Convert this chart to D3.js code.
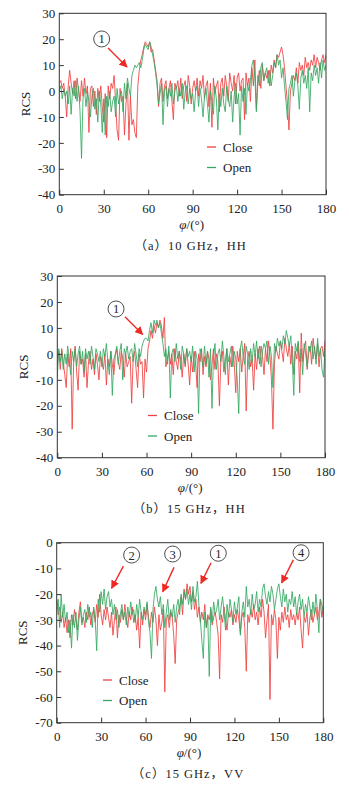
<!DOCTYPE html>
<html>
<head>
<meta charset="utf-8">
<script src="https://cdn.jsdelivr.net/npm/d3@7"></script>
<style>
  body { margin: 0; background: #fff; }
  text { font-family: "Liberation Serif", "Noto Sans CJK SC", serif; fill: #222; }
</style>
</head>
<body>
<div id="chart"></div>
<script>
// φ in degrees, one reading per degree
const angles = d3.range(0, 181)

// (a) 10 GHz, HH
const closeA = [
  3, 4, 1, 3, -2, -10, 2, 8, 3, -1,
  4, -3, 5, 0, -4, 4, -2, 5, -1, 2,
  -16, 1, 2, -6, 0, -9, 1, -4, 2, -6,
  -12, -1, -18, 2, -3, 3, 1, 6, -4, -15,
  -19, 1, -4, -2, -17, -5, 3, -19, -2, -13,
  -11, -16, -18, 2, 8, 12, 14, 17, 19, 18,
  17, 19, 15, 16, 12, 8, 4, -6, 3, 5,
  -4, 2, 4, -3, 1, 4, -4, -11, 3, 1,
  4, -2, 5, -3, 2, 4, -4, 6, 2, -5,
  1, 4, 0, 5, -2, 4, 1, 6, -3, 2,
  4, -6, 3, -14, 5, -1, 2, 4, -8, 3,
  5, -2, 6, 2, -4, 7, 3, 0, 6, -5,
  5, 7, 0, 4, 5, -11, 7, 2, 5, -4,
  9, 2, 12, -7, 3, 8, 1, 10, 4, 7,
  5, 8, 2, 10, 7, 12, 9, 14, 13, 15,
  17, 14, 9, 2, -5, -15, 0, 3, 6, 4,
  9, 3, 11, 8, 10, 6, 13, 9, 11, 8,
  12, 10, 14, 9, 13, 11, 8, 12, 14, 11,
  14
]
const openA = [
  0, 2, -3, 1, -2, 0, -5, 2, -9, 1,
  -2, 4, -4, 2, -8, -26, -3, 1, -6, 0,
  -4, -10, -2, 1, -7, -3, -12, 0, -5, -16,
  -3, -17, -2, -6, 0, -8, -4, -2, -10, 1,
  -5, -2, 0, -8, 3, -3, 5, 1, -2, 6,
  8, 10, 9, 10, 11, 9, 12, 16, 18, 17,
  16, 19, 17, 14, 11, 7, 2, -5, -1, 3,
  -13, 0, 2, -6, 1, -2, 3, -5, 0, 2,
  -4, 1, -2, 3, -7, 0, 2, -5, 1, -3,
  -1, -8, 0, 2, -6, 1, -3, -10, -2, 1,
  -5, -12, 0, -4, -9, 2, -3, -15, -1, -6,
  1, -5, -8, 2, -3, -6, 0, -12, -2, 3,
  -5, -1, -17, 2, -4, 1, -9, 3, 0, 4,
  10, 12, 5, -8, 6, 2, 9, 11, 4, 7,
  9, 3, 8, 2, 6, 11, 9, 14, 10, 12,
  5, 9, 2, -4, -11, 1, 3, 6, -2, 4,
  7, 2, -7, 5, 8, 3, 6, 1, 9, -8,
  7, 4, 10, 6, 9, 3, 11, 5, 12, 8,
  10
]

// (b) 15 GHz, HH
const closeB = [
  -4, 1, -6, 2, -3, -8, -13, 0, -5, 2,
  -29, -3, 3, -7, -14, 1, -4, -2, -9, 0,
  -13, -3, 1, -6, -2, -8, 0, -4, -10, -1,
  -3, -6, 0, -12, -2, -5, 1, -4, -8, -1,
  2, -3, -6, 1, -2, -9, 0, -5, -3, -1,
  -19, -2, 1, -6, -13, 0, -4, -3, -17, -2,
  -7, 2, 5, 9, 6, 11, 8, 12, 10, 13,
  11, 6, 14, -5, -2, 1, -4, 0, -8, 2,
  -3, -6, 1, -2, -9, 0, -5, 2, -4, -12,
  -1, -7, 1, -4, -13, 0, -3, 2, -8, -1,
  -5, 1, -2, -10, -4, 2, -6, 0, -3, -20,
  -2, 1, -7, -3, 2, -12, -1, -5, 3, -4,
  -15, 1, -3, 2, -7, -1, 4, -22, -2, 1,
  -5, -2, -14, 0, -6, 2, -4, 3, -1, -8,
  2, -3, 5, -1, -10, -29, -4, 3, 0, -2,
  5, 1, -3, 6, 2, -1, 4, -4, 3, -8,
  1, -2, 4, -15, 8, -3, 2, 5, -6, 0,
  3, -4, 6, 1, -2, 4, -5, 2, 3, -1,
  5
]
const openB = [
  -9, 2, -3, 1, -6, 0, -4, 3, -2, -8,
  1, -3, 2, -5, 0, 3, -4, 1, -7, 2,
  -2, 1, -4, 3, -1, -6, 2, 0, -3, 1,
  -5, 2, -1, 4, -3, -8, 1, -16, -2, 0,
  3, -4, 1, 4, -10, 2, 0, 3, -2, 1,
  2, -3, 4, 0, -5, 2, -1, 3, 5, 6,
  6, 5, 9, 12, 8, 13, 11, 13, 10, 12,
  8, 4, -1, 2, -4, 3, -17, 0, 2, -3,
  4, -2, 1, -6, 3, 0, -4, 2, -1, 1,
  -3, 3, -7, 1, -2, -23, 2, -1, -5, 3,
  -4, 1, -9, 2, -21, -2, 4, -6, 0, 2,
  -3, 5, -1, -8, 2, -3, 0, 3, -5, 1,
  -2, -10, -23, 2, 5, -1, -4, 3, 0, -6,
  2, -3, 4, -1, 5, -2, 3, -5, 1, 4,
  2, 5, -4, 3, -1, -13, 4, 1, 6, 3,
  5, 2, 7, 4, 9, 6, 3, 7, -2, -16,
  4, 1, 5, -3, 2, -8, 4, 0, -5, 3,
  1, 5, -2, 3, -4, 6, -1, 2, -6, -9,
  2
]

// (c) 15 GHz, VV
const closeC = [
  -22, -28, -25, -31, -27, -33, -29, -35, -30, -37,
  -28, -32, -26, -30, -34, -27, -23, -31, -29, -33,
  -27, -30, -25, -32, -28, -26, -31, -24, -29, -20,
  -28, -32, -26, -30, -25, -29, -33, -27, -36, -30,
  -25, -37, -28, -31, -26, -30, -24, -29, -33, -27,
  -30, -25, -31, -28, -34, -29, -41, -27, -32, -26,
  -30, -24, -29, -33, -27, -31, -25, -30, -40, -28,
  -34, -31, -26, -58, -30, -28, -33, -27, -29, -36,
  -47, -30, -27, -25, -21, -28, -18, -22, -16, -20,
  -17, -23, -19, -26, -22, -29, -25, -31, -27, -30,
  -24, -33, -28, -30, -26, -32, -29, -27, -31, -36,
  -53, -28, -31, -25, -30, -34, -27, -29, -26, -32,
  -28, -31, -26, -30, -35, -29, -27, -33, -50, -28,
  -31, -26, -29, -24, -30, -27, -32, -25, -29, -22,
  -27, -37, -30, -24, -61, -28, -32, -26, -30, -45,
  -29, -34, -27, -31, -25, -30, -28, -33, -26, -30,
  -28, -32, -27, -30, -25, -34, -41, -29, -31, -27,
  -36, -29, -26, -31, -28, -25, -30, -27, -22, -29,
  -25
]
const openC = [
  -26, -22, -33, -20, -29, -24, -31, -27, -35, -30,
  -41, -28, -33, -27, -38, -30, -25, -32, -28, -26,
  -31, -24, -29, -27, -33, -25, -30, -42, -22, -27,
  -19, -24, -18, -26, -21, -19, -25, -22, -28, -24,
  -30, -26, -33, -28, -24, -30, -27, -32, -25, -29,
  -23, -28, -26, -31, -24, -29, -22, -27, -30, -25,
  -28, -23, -31, -35, -45, -26, -20, -17, -22, -25,
  -21, -28, -24, -33, -27, -22, -30, -26, -29, -24,
  -31, -25, -22, -28, -20, -24, -19, -22, -18, -24,
  -20, -26, -17, -23, -21, -15, -24, -30, -38, -45,
  -27, -33, -29, -52, -25, -31, -23, -28, -26, -22,
  -30, -25, -21, -27, -34, -24, -29, -22, -26, -31,
  -23, -28, -25, -21, -36, -27, -23, -29, -17, -25,
  -22, -28, -20, -26, -24, -19, -27, -22, -25, -18,
  -16, -21, -24, -19, -23, -17, -20, -26, -22, -18,
  -16, -21, -25, -18, -23, -20, -27, -22, -24, -19,
  -25, -21, -28, -23, -20, -26, -22, -29, -24, -27,
  -21, -25, -30, -23, -28, -20, -26, -35, -22, -24,
  -27
]

const xTicks = [0, 30, 60, 90, 120, 150, 180]
const yTicksAB = [-40, -30, -20, -10, 0, 10, 20, 30]
const yTicksC = [-70, -60, -50, -40, -30, -20, -10, 0]
const seriesNames = ["Close", "Open"]
const captions = ["（a）10 GHz，HH", "（b）15 GHz，HH", "（c）15 GHz，VV"]

// numbered callouts: label, circle position, arrow start, arrow end (data units)
const notesA = [{ n: "1", c: [28.6, 20.1], from: [32.9, 16.6], to: [45.7, 9.3] }]
const notesB = [{ n: "1", c: [39.5, 17.3], from: [45.5, 14.3], to: [57.4, 7.5] }]
const notesC = [
  { n: "2", c: [50.6, -4.8], from: [45, -9.1], to: [37.1, -17.7] },
  { n: "3", c: [78.3, -4.4], from: [79.2, -9.6], to: [71.6, -19.1] },
  { n: "1", c: [109.1, -4.1], from: [104.2, -7.8], to: [97.4, -15.8] },
  { n: "4", c: [165, -3.9], from: [159.8, -6.7], to: [151.9, -15.6] }
]

const colors = { Close: "#ee4040", Open: "#34a862" }

const width = 349, height = 808

const svg = d3.select("#chart").append("svg")
  .attr("width", width)
  .attr("height", height)
  .attr("viewBox", [0, 0, width, height])

const defs = svg.append("defs")
defs.append("marker")
  .attr("id", "arrowHead")
  .attr("viewBox", "0 0 10 10")
  .attr("refX", 9).attr("refY", 5)
  .attr("markerWidth", 6).attr("markerHeight", 6)
  .attr("orient", "auto")
  .append("path")
  .attr("d", "M0,0 L10,5 L0,10 z")
  .attr("fill", "#ee2a24")

const panels = [
  { box: [59.3, 13.3, 326, 194.7], yDomain: [-40, 30], yTicks: yTicksAB, close: closeA, open: openA,
    notes: notesA, legend: [207, 147], caption: captions[0] },
  { box: [57.3, 276, 325, 457.7], yDomain: [-40, 30], yTicks: yTicksAB, close: closeB, open: openB,
    notes: notesB, legend: [148, 415.5], caption: captions[1] },
  { box: [56.7, 542.7, 323.3, 722.7], yDomain: [-70, 0], yTicks: yTicksC, close: closeC, open: openC,
    notes: notesC, legend: [103, 680], caption: captions[2] }
]

panels.forEach(p => {
  const [x0, y0, x1, y1] = p.box
  const x = d3.scaleLinear().domain([0, 180]).range([x0, x1])
  const y = d3.scaleLinear().domain(p.yDomain).range([y1, y0])
  const g = svg.append("g")

  const line = d3.line()
    .x((d, i) => x(angles[i]))
    .y(d => y(d))

  // series: Close below, Open on top
  const clipId = "clip" + Math.round(y0)
  defs.append("clipPath").attr("id", clipId)
    .append("rect").attr("x", x0).attr("y", y0).attr("width", x1 - x0).attr("height", y1 - y0)

  g.append("g").attr("clip-path", `url(#${clipId})`)
    .selectAll("path")
    .data([["Close", p.close], ["Open", p.open]])
    .join("path")
    .attr("d", d => line(d[1]))
    .attr("fill", "none")
    .attr("stroke", d => colors[d[0]])
    .attr("stroke-width", 1)
    .attr("stroke-opacity", 0.85)
    .attr("stroke-linejoin", "round")

  // axes with inward ticks, plain hyphen for negatives
  const fmt = d => String(d)
  const xAxis = d3.axisBottom(x).tickValues(xTicks).tickFormat(fmt).tickSizeInner(-5).tickSizeOuter(0).tickPadding(9)
  const yAxis = d3.axisLeft(y).tickValues(p.yTicks).tickFormat(fmt).tickSizeInner(-4.5).tickSizeOuter(0).tickPadding(4)

  const styleAxis = a => {
    a.select(".domain").remove()
    a.selectAll("line").attr("stroke", "#333")
    a.selectAll("text").attr("font-size", 13).attr("fill", "#222")
      .attr("font-family", "Liberation Serif")
  }
  g.append("g").attr("transform", `translate(0,${y1})`).call(xAxis).call(styleAxis)
  g.append("g").attr("transform", `translate(${x0},0)`).call(yAxis).call(styleAxis)

  g.append("rect")
    .attr("x", x0).attr("y", y0)
    .attr("width", x1 - x0).attr("height", y1 - y0)
    .attr("fill", "none")
    .attr("stroke", "#333")
    .attr("stroke-width", 1)

  // axis titles
  g.append("text")
    .attr("transform", `translate(${x0 - 34},${(y0 + y1) / 2}) rotate(-90)`)
    .attr("text-anchor", "middle")
    .attr("dy", "0.35em")
    .attr("font-size", 13)
    .text("RCS")

  const xt = g.append("text")
    .attr("x", (x0 + x1) / 2 - 1)
    .attr("y", y1 + 34.5)
    .attr("text-anchor", "middle")
    .attr("font-size", 13)
  xt.append("tspan").attr("font-style", "italic").text("φ")
  xt.append("tspan").text("/(°)")

  g.append("text")
    .attr("x", (x0 + x1) / 2 - 2)
    .attr("y", y1 + 55.5)
    .attr("text-anchor", "middle")
    .attr("font-size", 12.5)
    .attr("letter-spacing", 1)
    .text(p.caption)

  // legend
  const [lx, ly] = p.legend
  const leg = g.selectAll(".legend")
    .data(seriesNames)
    .join("g")
    .attr("transform", (d, i) => `translate(${lx},${ly + i * 20.5})`)
  leg.append("line")
    .attr("x1", 0).attr("x2", 9)
    .attr("stroke", d => colors[d])
    .attr("stroke-width", 1.3)
  leg.append("text")
    .attr("x", 16)
    .attr("dy", "0.35em")
    .attr("font-size", 13)
    .text(d => d)

  // callouts
  const note = g.selectAll(".note")
    .data(p.notes)
    .join("g")
  note.append("circle")
    .attr("cx", d => x(d.c[0])).attr("cy", d => y(d.c[1]))
    .attr("r", 8)
    .attr("fill", "#fff")
    .attr("stroke", "#222")
    .attr("stroke-width", 0.8)
  note.append("text")
    .attr("x", d => x(d.c[0])).attr("y", d => y(d.c[1]))
    .attr("text-anchor", "middle")
    .attr("dy", "0.36em")
    .attr("font-size", 12.5)
    .text(d => d.n)
  note.append("line")
    .attr("x1", d => x(d.from[0])).attr("y1", d => y(d.from[1]))
    .attr("x2", d => x(d.to[0])).attr("y2", d => y(d.to[1]))
    .attr("stroke", "#ee2a24")
    .attr("stroke-width", 1.4)
    .attr("marker-end", "url(#arrowHead)")
})
</script>
</body>
</html>
